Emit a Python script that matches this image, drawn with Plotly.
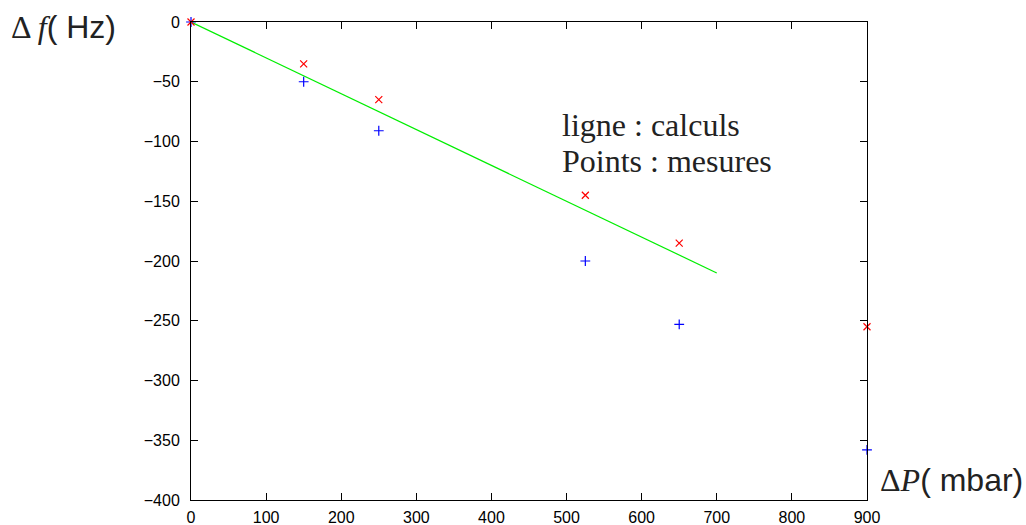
import plotly.graph_objects as go

# Data
dp_calc = [0, 700]
df_calc = [0, -210]

dp_meas = [0, 150, 250, 525, 650, 900]
df_red = [0, -35, -65, -145, -185, -255]
df_blue = [0, -50, -91, -200, -253, -358]

x_ticks = [0, 100, 200, 300, 400, 500, 600, 700, 800, 900]
y_ticks = [0, -50, -100, -150, -200, -250, -300, -350, -400]

fig = go.Figure()
fig.add_trace(go.Scatter(x=dp_calc, y=df_calc, mode="lines",
                         line=dict(color="#00ee00", width=1.2), showlegend=False))
fig.add_trace(go.Scatter(x=dp_meas, y=df_blue, mode="markers",
                         marker=dict(symbol="cross-thin", size=7,
                                     line=dict(color="#0000ff", width=1.2)),
                         showlegend=False, cliponaxis=False))
fig.add_trace(go.Scatter(x=dp_meas, y=df_red, mode="markers",
                         marker=dict(symbol="x-thin", size=7,
                                     line=dict(color="#ff0000", width=1.2)),
                         showlegend=False, cliponaxis=False))

axis_common = dict(showline=True, linecolor="black", linewidth=1, mirror="ticks",
                   ticks="inside", ticklen=7, tickcolor="black", tickwidth=1,
                   showgrid=False, zeroline=False, automargin=False,
                   tickfont=dict(family="Liberation Sans, Arial, sans-serif", size=16, color="black"))

fig.update_xaxes(range=[0, 900], tickvals=x_ticks, ticklabelstandoff=3, **axis_common)
fig.update_yaxes(range=[-400, 0], tickvals=y_ticks, ticklabelstandoff=7, **axis_common)

serif = "Liberation Serif, Times New Roman, serif"
sans = "Liberation Sans, Arial, sans-serif"

def px_x(p):
    return (p - 191) / 676

def px_y(p):
    return 1 - (p - 22) / 478

fig.add_annotation(xref="paper", yref="paper", x=px_x(9), y=px_y(27),
                   xanchor="left", yanchor="middle", showarrow=False,
                   text=f"<span style='font-family:{serif}'>Δ <i>f</i></span>( Hz)",
                   font=dict(family=sans, size=32, color="#222"))
fig.add_annotation(xref="paper", yref="paper", x=px_x(878), y=px_y(480),
                   xanchor="left", yanchor="middle", showarrow=False,
                   text=f"<span style='font-family:{serif}'>Δ<i>P</i></span>( mbar)",
                   font=dict(family=sans, size=32, color="#222"))
fig.add_annotation(xref="paper", yref="paper", x=px_x(560), y=px_y(125),
                   xanchor="left", yanchor="middle", showarrow=False,
                   text="ligne : calculs", font=dict(family=serif, size=32, color="#222"))
fig.add_annotation(xref="paper", yref="paper", x=px_x(560), y=px_y(161),
                   xanchor="left", yanchor="middle", showarrow=False,
                   text="Points : mesures", font=dict(family=serif, size=32, color="#222"))

fig.update_layout(width=1026, height=525, plot_bgcolor="white", paper_bgcolor="white",
                  margin=dict(l=191, r=159, t=22, b=25))

fig.write_html("out.html", config={"displayModeBar": False},
               post_script="document.body.style.margin='0';")
